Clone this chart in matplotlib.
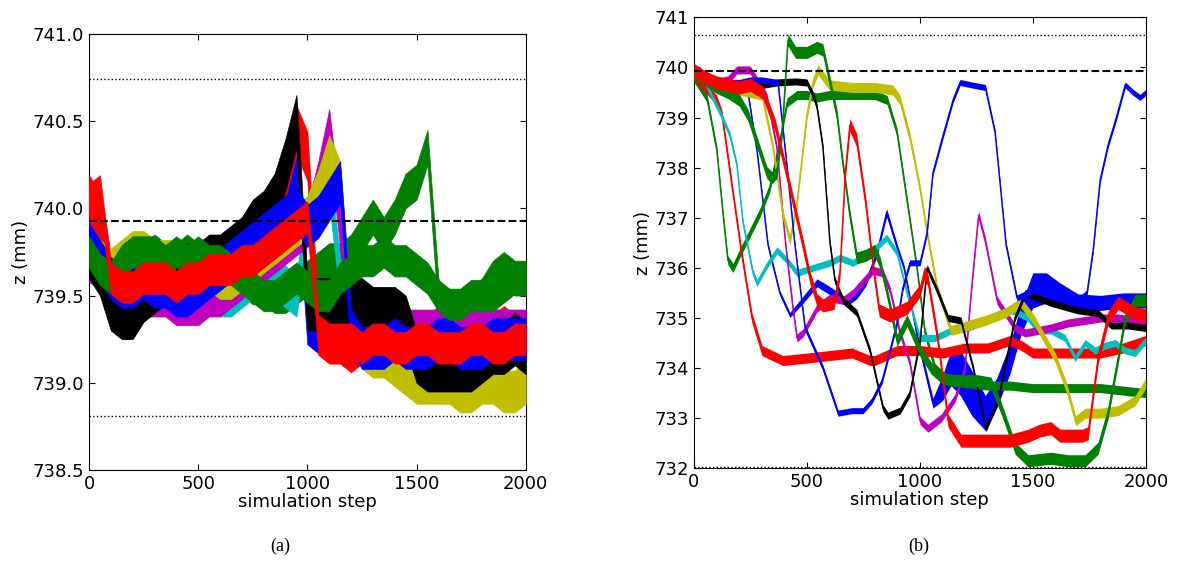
import numpy as np
import matplotlib.pyplot as plt

# ---------------- panel (a): noisy z traces, read every 50 steps ----------------
a_step = [0, 50, 100, 150, 200, 250, 300, 350, 400, 450, 500, 550, 600, 650, 700,
          750, 800, 850, 900, 950, 1000, 1050, 1100, 1150, 1200, 1250, 1300, 1350,
          1400, 1450, 1500, 1550, 1600, 1650, 1700, 1750, 1800, 1850, 1900, 1950, 2000]

a_blue1 = [739.85, 739.75, 739.55, 739.5, 739.5, 739.55, 739.6, 739.6, 739.55, 739.5, 739.55,
           739.6, 739.65, 739.7, 739.8, 739.9, 739.9, 739.95, 740.05, 740.25, 739.35, 739.3,
           739.25, 739.25, 739.2, 739.25, 739.25, 739.3, 739.3, 739.25, 739.25, 739.2, 739.25,
           739.3, 739.25, 739.25, 739.3, 739.3, 739.25, 739.25, 739.2]
a_green1 = [739.8, 739.7, 739.6, 739.65, 739.7, 739.7, 739.75, 739.7, 739.7, 739.75, 739.7,
            739.7, 739.65, 739.6, 739.6, 739.55, 739.55, 739.5, 739.5, 739.55, 739.6, 739.65,
            739.7, 739.7, 739.75, 739.85, 739.95, 739.85, 739.95, 740.1, 740.15, 740.35, 739.5,
            739.35, 739.4, 739.45, 739.5, 739.6, 739.65, 739.6, 739.6]
a_red1 = [740.05, 739.95, 739.6, 739.55, 739.5, 739.55, 739.6, 739.6, 739.55, 739.55, 739.6,
          739.65, 739.7, 739.75, 739.8, 739.9, 739.95, 740.0, 740.2, 740.45, 740.3, 739.3,
          739.25, 739.25, 739.2, 739.25, 739.2, 739.25, 739.3, 739.25, 739.25, 739.25, 739.3,
          739.25, 739.25, 739.3, 739.3, 739.25, 739.3, 739.25, 739.25]
a_cyan = [739.75, 739.7, 739.6, 739.6, 739.65, 739.7, 739.65, 739.65, 739.6, 739.6, 739.6,
          739.55, 739.5, 739.5, 739.55, 739.6, 739.6, 739.6, 739.55, 739.5, 739.95, 740.1,
          740.15, 739.6, 739.35, 739.3, 739.3, 739.3, 739.3, 739.25, 739.25, 739.25, 739.3,
          739.3, 739.25, 739.25, 739.3, 739.3, 739.3, 739.25, 739.25]
a_magenta = [739.7, 739.65, 739.55, 739.5, 739.5, 739.5, 739.5, 739.5, 739.45, 739.45, 739.45,
             739.5, 739.5, 739.55, 739.6, 739.65, 739.7, 739.75, 739.8, 739.85, 739.9, 740.15,
             740.45, 739.9, 739.35, 739.3, 739.3, 739.3, 739.3, 739.3, 739.3, 739.3, 739.3,
             739.35, 739.3, 739.3, 739.35, 739.3, 739.3, 739.3, 739.3]
a_yellow = [739.8, 739.7, 739.65, 739.7, 739.75, 739.75, 739.7, 739.7, 739.7, 739.65, 739.65,
            739.65, 739.6, 739.6, 739.65, 739.7, 739.75, 739.8, 739.85, 739.9, 739.95, 740.1,
            740.3, 740.15, 739.3, 739.2, 739.15, 739.15, 739.1, 739.05, 739.0, 739.0, 739.0,
            739.0, 738.95, 738.95, 739.0, 739.0, 738.95, 738.95, 739.0]
a_black = [739.75, 739.65, 739.45, 739.4, 739.4, 739.5, 739.55, 739.6, 739.6, 739.65, 739.65,
           739.7, 739.7, 739.75, 739.8, 739.9, 739.95, 740.05, 740.25, 740.5, 739.45, 739.45,
           739.45, 739.45, 739.45, 739.45, 739.4, 739.4, 739.4, 739.35, 739.15, 739.1, 739.1,
           739.1, 739.1, 739.1, 739.15, 739.2, 739.2, 739.25, 739.2]
a_blue2 = [739.8, 739.7, 739.6, 739.55, 739.55, 739.6, 739.55, 739.55, 739.5, 739.5, 739.55,
           739.6, 739.65, 739.7, 739.75, 739.8, 739.85, 739.9, 739.95, 740.0, 739.9, 739.95,
           740.05, 740.15, 739.3, 739.2, 739.2, 739.2, 739.25, 739.2, 739.2, 739.2, 739.25,
           739.25, 739.2, 739.2, 739.2, 739.25, 739.25, 739.25, 739.25]
a_green2 = [739.75, 739.65, 739.6, 739.7, 739.75, 739.75, 739.75, 739.7, 739.75, 739.7, 739.75,
            739.7, 739.7, 739.65, 739.6, 739.55, 739.5, 739.5, 739.55, 739.6, 739.55, 739.5,
            739.5, 739.6, 739.65, 739.7, 739.7, 739.75, 739.7, 739.7, 739.65, 739.6, 739.5,
            739.45, 739.45, 739.5, 739.5, 739.5, 739.55, 739.6, 739.6]
a_red2 = [740.05, 740.1, 739.6, 739.55, 739.55, 739.6, 739.6, 739.6, 739.55, 739.6, 739.6,
          739.65, 739.65, 739.65, 739.7, 739.7, 739.75, 739.8, 739.85, 739.9, 739.95, 739.3,
          739.25, 739.25, 739.25, 739.2, 739.25, 739.25, 739.2, 739.2, 739.25, 739.25, 739.2,
          739.2, 739.2, 739.25, 739.25, 739.2, 739.2, 739.25, 739.25]
# half-width of the noise band of each trace
a_noise = [0.13, 0.1, 0.14, 0.12, 0.12, 0.12, 0.15, 0.12, 0.09, 0.09]
a_ref = 739.93
a_bounds = [740.74, 738.81]

# ---------------- panel (b): key points of each trace ----------------
b_blue1_x = [0, 50, 100, 150, 200, 239, 280, 328, 380, 425, 480, 545, 600, 677, 720, 760, 810,
             853, 900, 930, 992, 1058, 1100, 1138, 1180, 1230, 1290, 1340, 1400, 1450, 1500,
             1560, 1620, 1700, 1800, 1900, 2000]
b_blue1_z = [739.85, 739.75, 739.7, 739.65, 739.6, 739.5, 738.3, 736.45, 735.5, 735.06, 735.35,
             735.7, 735.55, 735.32, 735.45, 735.7, 736.3, 737.1, 736.4, 736.0, 734.55, 733.3,
             733.6, 734.0, 733.9, 733.5, 733.1, 733.5, 734.2, 735.0, 735.55, 735.6, 735.45,
             735.3, 735.3, 735.35, 735.35]
b_blue1_n = [0.06, 0.06, 0.06, 0.06, 0.06, 0.06, 0.05, 0.05, 0.05, 0.05, 0.07, 0.08, 0.08,
             0.08, 0.07, 0.07, 0.07, 0.08, 0.07, 0.06, 0.08, 0.1, 0.25, 0.35, 0.45, 0.45, 0.35,
             0.3, 0.3, 0.3, 0.35, 0.3, 0.25, 0.18, 0.15, 0.15, 0.15]

b_green1_x = [0, 57, 101, 128, 150, 173, 204, 248, 292, 336, 381, 412, 456, 500, 545, 600, 700,
              800, 855, 899, 943, 987, 1023, 1067, 1125, 1200, 1300, 1400, 1500, 1600, 1700,
              1800, 1900, 2000]
b_green1_z = [739.8, 739.4, 738.35, 737.1, 736.15, 736.0, 736.3, 736.7, 737.1, 737.6, 738.55,
              739.3, 739.45, 739.45, 739.4, 739.45, 739.45, 739.45, 739.35, 738.7, 737.35, 736.0,
              734.7, 734.0, 733.75, 733.7, 733.65, 733.65, 733.6, 733.6, 733.6, 733.6, 733.55,
              733.5]

b_red1_x = [0, 50, 100, 124, 160, 204, 230, 257, 301, 394, 500, 600, 700, 780, 800, 900, 1000,
            1100, 1200, 1300, 1400, 1450, 1500, 1600, 1700, 1800, 1900, 2000]
b_red1_z = [739.85, 739.6, 739.35, 739.05, 737.9, 736.5, 735.75, 735.0, 734.35, 734.15, 734.2,
            734.25, 734.3, 734.15, 734.15, 734.35, 734.35, 734.3, 734.4, 734.4, 734.55, 734.45,
            734.3, 734.3, 734.3, 734.3, 734.4, 734.55]

b_cyan_x = [0, 40, 71, 115, 159, 190, 217, 235, 261, 279, 323, 367, 412, 456, 527, 600, 646, 704,
            793, 853, 899, 943, 1000, 1067, 1138, 1213, 1289, 1360, 1404, 1435, 1479, 1523, 1581,
            1643, 1687, 1732, 1776, 1821, 1865, 1909, 1953, 2000]
b_cyan_z = [739.9, 739.8, 739.5, 739.1, 738.65, 738.05, 736.9, 736.5, 735.9, 735.7, 736.05,
            736.35, 736.15, 735.9, 736.0, 736.1, 736.2, 736.1, 736.35, 736.6, 736.3, 735.5, 734.6,
            734.6, 734.75, 734.8, 734.95, 735.1, 735.15, 735.1, 735.0, 734.75, 734.75, 734.6,
            734.2, 734.5, 734.35, 734.45, 734.5, 734.35, 734.3, 734.55]

b_magenta_x = [0, 50, 100, 150, 190, 248, 300, 323, 367, 405, 438, 456, 483, 545, 602, 660, 704,
               793, 837, 868, 912, 956, 1001, 1036, 1094, 1156, 1200, 1227, 1249, 1260, 1289,
               1342, 1422, 1466, 1523, 1580, 1656, 1732, 1802, 1878, 1953, 2000]
b_magenta_z = [739.9, 739.75, 739.7, 739.75, 739.95, 739.95, 739.6, 739.4, 738.4, 736.5, 735.2,
               734.6, 734.7, 735.2, 735.4, 735.35, 735.5, 735.95, 735.9, 735.55, 734.7, 734.1,
               732.95, 732.8, 733.0, 733.4, 734.0, 735.5, 736.55, 737.05, 736.55, 735.35, 734.8,
               734.7, 734.75, 734.8, 734.9, 734.95, 735.0, 735.0, 734.95, 734.9]

b_yellow_x = [0, 50, 100, 150, 200, 250, 301, 350, 394, 425, 456, 500, 527, 549, 600, 700, 800,
              880, 912, 956, 1000, 1032, 1076, 1138, 1213, 1289, 1377, 1448, 1500, 1550, 1600,
              1650, 1690, 1732, 1800, 1878, 1953, 2000]
b_yellow_z = [739.9, 739.8, 739.7, 739.6, 739.55, 739.5, 739.45, 738.4, 737.05, 736.55, 737.3,
              739.05, 739.7, 739.95, 739.65, 739.6, 739.6, 739.55, 739.35, 738.6, 737.6, 736.7,
              735.6, 734.75, 734.85, 734.95, 735.1, 735.3, 735.0, 734.6, 734.2, 733.6, 732.95,
              733.1, 733.1, 733.15, 733.35, 733.7]

b_black_x = [0, 50, 100, 200, 300, 367, 450, 500, 527, 545, 571, 602, 624, 660, 721, 779, 837,
             859, 912, 956, 1001, 1032, 1076, 1125, 1182, 1236, 1293, 1346, 1421, 1466, 1581,
             1700, 1789, 1847, 1920, 2000]
b_black_z = [739.9, 739.75, 739.7, 739.65, 739.65, 739.7, 739.72, 739.7, 739.45, 739.2, 738.4,
             736.5, 735.75, 735.35, 735.1, 734.35, 733.2, 733.05, 733.15, 733.5, 734.55, 736.0,
             735.55, 735.0, 734.95, 734.0, 732.8, 733.35, 735.0, 735.5, 735.3, 735.15, 735.1,
             734.85, 734.85, 734.8]

b_blue2_x = [0, 50, 100, 150, 200, 250, 300, 372, 410, 447, 492, 571, 638, 700, 748, 788, 833,
             868, 899, 925, 956, 1001, 1032, 1058, 1100, 1147, 1178, 1230, 1290, 1333, 1382,
             1430, 1500, 1600, 1700, 1740, 1767, 1798, 1833, 1870, 1909, 1944, 1975, 2000]
b_blue2_z = [739.9, 739.8, 739.7, 739.7, 739.7, 739.75, 739.75, 739.7, 738.1, 736.45, 734.8,
             734.0, 733.1, 733.15, 733.15, 733.35, 733.75, 734.35, 734.9, 735.6, 736.1, 736.1,
             736.7, 737.9, 738.6, 739.35, 739.7, 739.65, 739.6, 738.7, 736.45, 735.4, 735.55,
             735.45, 735.35, 735.5, 736.35, 737.75, 738.45, 739.0, 739.65, 739.5, 739.4, 739.5]

b_green2_x = [0, 50, 100, 150, 200, 239, 279, 323, 345, 367, 390, 416, 450, 500, 545, 571, 602,
              633, 660, 690, 721, 760, 800, 824, 860, 899, 943, 1001, 1050, 1100, 1150, 1250,
              1315, 1360, 1422, 1479, 1581, 1656, 1732, 1789, 1833, 1878, 1909, 1953, 2000]
b_green2_z = [739.9, 739.75, 739.6, 739.5, 739.35, 739.05, 738.5, 737.9, 737.8, 737.9, 738.7,
              740.55, 740.3, 740.3, 740.4, 740.35, 739.7, 739.05, 738.05, 737.05, 736.2, 736.25,
              736.35, 736.1, 735.4, 734.55, 734.95, 734.35, 734.0, 733.8, 733.75, 733.75, 733.7,
              733.2, 732.4, 732.15, 732.2, 732.15, 732.15, 732.4, 733.1, 734.2, 735.0, 735.35,
              735.35]

b_red2_x = [0, 50, 100, 150, 200, 250, 305, 359, 425, 483, 514, 545, 571, 620, 646, 670, 690,
            720, 760, 794, 820, 868, 943, 1001, 1020, 1036, 1080, 1125, 1182, 1300, 1400, 1480,
            1530, 1580, 1620, 1720, 1745, 1789, 1833, 1878, 1950, 2000]
b_red2_z = [739.95, 739.8, 739.7, 739.65, 739.6, 739.65, 739.5, 738.85, 737.6, 736.45, 735.8,
            735.35, 735.25, 735.3, 735.9, 737.9, 738.85, 738.55, 737.3, 736.0, 735.15, 735.05,
            735.2, 735.55, 735.9, 735.75, 734.55, 732.95, 732.55, 732.55, 732.55, 732.65, 732.75,
            732.8, 732.65, 732.65, 732.7, 734.2, 735.0, 735.3, 735.1, 735.05]

b_noise = [None, 0.09, 0.1, 0.07, 0.08, 0.1, 0.07, 0.06, 0.12, 0.13]
b_ref = 739.93
b_bounds = [740.65, 732.02]

colors = ['b', 'g', 'r', 'c', 'm', 'y', 'k', 'b', 'g', 'r']

plt.rcParams['font.family'] = 'DejaVu Sans'
plt.rcParams['font.size'] = 13
plt.rcParams['xtick.direction'] = 'in'
plt.rcParams['ytick.direction'] = 'in'
plt.rcParams['xtick.top'] = True
plt.rcParams['ytick.right'] = True
plt.rcParams['xtick.major.size'] = 4
plt.rcParams['ytick.major.size'] = 4

fig = plt.figure(figsize=(11.79, 5.71), dpi=100)
ax1 = fig.add_axes([0.0755, 0.1769, 0.3704, 0.7636])
ax2 = fig.add_axes([0.5886, 0.1799, 0.3832, 0.7898])

# panel (a): each run drawn as its noise band, later runs on top
a_traces = [a_blue1, a_green1, a_red1, a_cyan, a_magenta, a_yellow, a_black, a_blue2, a_green2, a_red2]
for i, (z, n, c) in enumerate(zip(a_traces, a_noise, colors)):
    z = np.array(z)
    ax1.fill_between(a_step, z - n, z + n, color=c, lw=0.5, zorder=2 + i)
ax1.axhline(a_ref, color='k', ls='--', lw=1.5, zorder=20)
for v in a_bounds:
    ax1.axhline(v, color='k', ls=':', lw=1, zorder=20)
ax1.set_xlim(0, 2000)
ax1.set_ylim(738.5, 741.0)
ax1.set_xticks([0, 500, 1000, 1500, 2000])
ax1.set_yticks([738.5, 739.0, 739.5, 740.0, 740.5, 741.0])
ax1.set_yticklabels(['738.5', '739.0', '739.5', '740.0', '740.5', '741.0'])
ax1.set_xlabel('simulation step', labelpad=0)
ax1.set_ylabel('z (mm)', labelpad=2)

# panel (b)
b_traces = [(b_blue1_x, b_blue1_z), (b_green1_x, b_green1_z), (b_red1_x, b_red1_z),
            (b_cyan_x, b_cyan_z), (b_magenta_x, b_magenta_z), (b_yellow_x, b_yellow_z),
            (b_black_x, b_black_z), (b_blue2_x, b_blue2_z), (b_green2_x, b_green2_z),
            (b_red2_x, b_red2_z)]
for i, ((x, z), n, c) in enumerate(zip(b_traces, b_noise, colors)):
    z = np.array(z)
    if n is None:
        n = np.array(b_blue1_n)
    ax2.fill_between(x, z - n, z + n, color=c, lw=0, zorder=2 + i)
    ax2.plot(x, z, color=c, lw=1, zorder=2 + i)
ax2.axhline(b_ref, color='k', ls='--', lw=1.5, zorder=20)
for v in b_bounds:
    ax2.axhline(v, color='k', ls=':', lw=1, zorder=20)
ax2.set_xlim(0, 2000)
ax2.set_ylim(732, 741)
ax2.set_xticks([0, 500, 1000, 1500, 2000])
ax2.set_yticks(range(732, 742))
ax2.set_xlabel('simulation step', labelpad=0)
ax2.set_ylabel('z (mm)', labelpad=2)

fig.text(0.2375, 0.036, '(a)', ha='center', family='Liberation Serif', fontsize=13)
fig.text(0.7795, 0.036, '(b)', ha='center', family='Liberation Serif', fontsize=13)

fig.savefig('out.png', dpi=100)
